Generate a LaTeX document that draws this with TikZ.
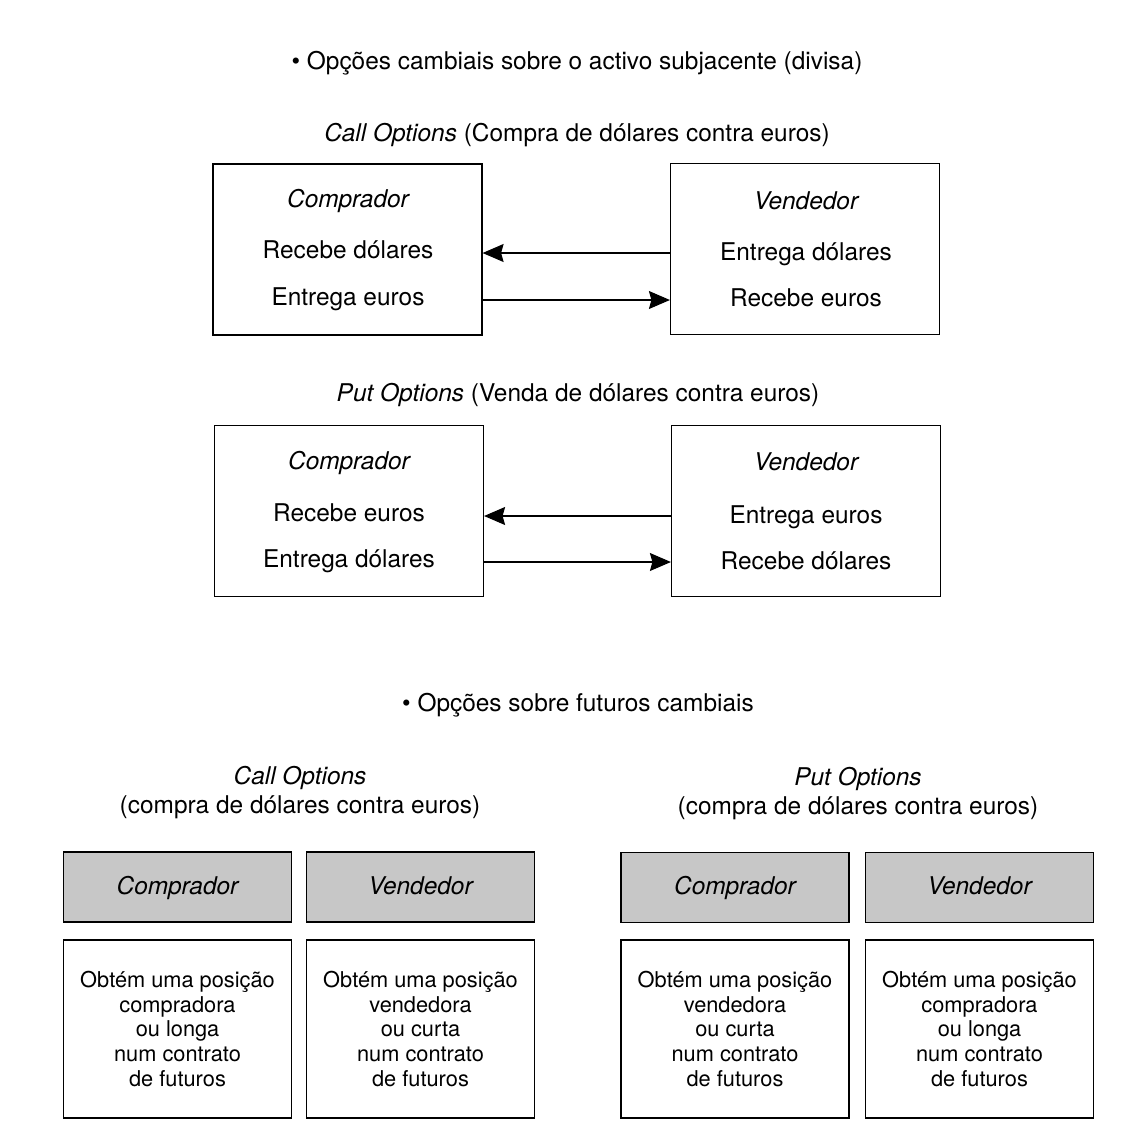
\documentclass[tikz,border=0pt]{standalone}
\usepackage{fontspec}
\setmainfont{TeX Gyre Heros}
\usetikzlibrary{arrows.meta}
\definecolor{boxgray}{gray}{0.78}
\begin{document}
\begin{tikzpicture}[x=0.02cm,y=-0.02cm,
  txt/.style={font=\fontsize{13.9}{16}\selectfont, text height=1.5ex, text depth=.25ex, inner sep=0pt, yshift=-0.06cm},
  bigbox/.style={draw, line width=0.7pt, minimum width=5.38cm, minimum height=3.42cm, inner sep=0pt},
  headbox/.style={draw, line width=0.7pt, fill=boxgray, minimum width=4.56cm, minimum height=1.40cm, text height=1.8ex, text depth=.25ex, font=\fontsize{13.9}{16}\selectfont\itshape},
  futbox/.style={draw, line width=0.7pt, minimum width=4.56cm, minimum height=3.56cm, align=center, font=\fontsize{12.4}{14.2}\selectfont},
  flow/.style={-{Stealth[length=0.42cm,width=0.36cm,inset=0.05cm]}, line width=0.6pt}]
\useasboundingbox (0,0) rectangle (1133,1147);
% opcoes sobre o activo subjacente
\node[txt] (tit1) at (577,61) {\textbullet\ Opções cambiais sobre o activo subjacente (divisa)};
\node[txt] (call1) at (577,133) {\textit{Call Options} (Compra de dólares contra euros)};
\node[bigbox] (lb1) at (347.5,249.5) {};
\node[bigbox] (rb1) at (805,249) {};
\node[txt] (lc1) at (348,199) {\itshape Comprador};
\node[txt] (lr1) at (348,250) {Recebe dólares};
\node[txt] (le1) at (348,297) {Entrega euros};
\node[txt] (rv1) at (806,201) {\itshape Vendedor};
\node[txt] (re1) at (806,252) {Entrega dólares};
\node[txt] (rr1) at (806,298) {Recebe euros};
\draw[flow] (rb1.west |- lr1) -- (lb1.east |- lr1);
\draw[flow] (lb1.east |- le1) -- (rb1.west |- le1);
%
\node[txt] (put1) at (578,393) {\textit{Put Options} (Venda de dólares contra euros)};
\node[bigbox] (lb2) at (349,511) {};
\node[bigbox] (rb2) at (806,511) {};
\node[txt] (lc2) at (349,461) {\itshape Comprador};
\node[txt] (lr2) at (349,513) {Recebe euros};
\node[txt] (le2) at (349,559) {Entrega dólares};
\node[txt] (rv2) at (806,462) {\itshape Vendedor};
\node[txt] (re2) at (806,515) {Entrega euros};
\node[txt] (rr2) at (806,561) {Recebe dólares};
\draw[flow] (rb2.west |- lr2) -- (lb2.east |- lr2);
\draw[flow] (lb2.east |- le2) -- (rb2.west |- le2);
% opcoes sobre futuros
\node[txt] (tit2) at (578,703) {\textbullet\ Opções sobre futuros cambiais};
\node[txt] (call2) at (300,776) {\itshape Call Options};
\node[txt] (call2b) at (300,805) {(compra de dólares contra euros)};
\node[txt] (put2) at (858,777) {\itshape Put Options};
\node[txt] (put2b) at (858,806) {(compra de dólares contra euros)};
\node[headbox] (hc1) at (177.5,887) {Comprador};
\node[headbox] (hv1) at (420.5,887) {Vendedor};
\node[headbox] (hc2) at (735,887.5) {Comprador};
\node[headbox] (hv2) at (979.5,887.5) {Vendedor};
\node[futbox] (fc1) at (177.5,1029) {Obtém uma posição\\compradora\\ou longa\\num contrato\\de futuros};
\node[futbox] (fv1) at (420.5,1029) {Obtém uma posição\\vendedora\\ou curta\\num contrato\\de futuros};
\node[futbox] (fc2) at (735,1029) {Obtém uma posição\\vendedora\\ou curta\\num contrato\\de futuros};
\node[futbox] (fv2) at (979.5,1029) {Obtém uma posição\\compradora\\ou longa\\num contrato\\de futuros};
\end{tikzpicture}
\end{document}
